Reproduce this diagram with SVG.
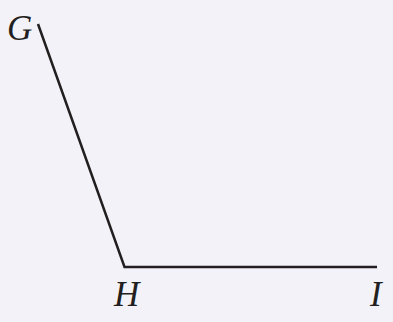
<svg xmlns="http://www.w3.org/2000/svg" width="393" height="322" viewBox="0 0 393 322">
<style>
.lbl{font-family:"Liberation Serif","Times New Roman",serif;font-style:italic;font-size:35px;fill:#231f20}
.edge{fill:none;stroke:#231f20;stroke-width:2.5;stroke-linejoin:miter}
</style>
<rect width="393" height="322" fill="#f3f2f8"/>
<g id="connectors">
<polyline class="edge" points="38,24 124.5,267 377,267"/>
</g>
<g id="G"><text class="lbl" x="7" y="40">G</text></g>
<g id="H"><text class="lbl" x="114" y="306">H</text></g>
<g id="I"><text class="lbl" x="370" y="306">I</text></g>
</svg>
